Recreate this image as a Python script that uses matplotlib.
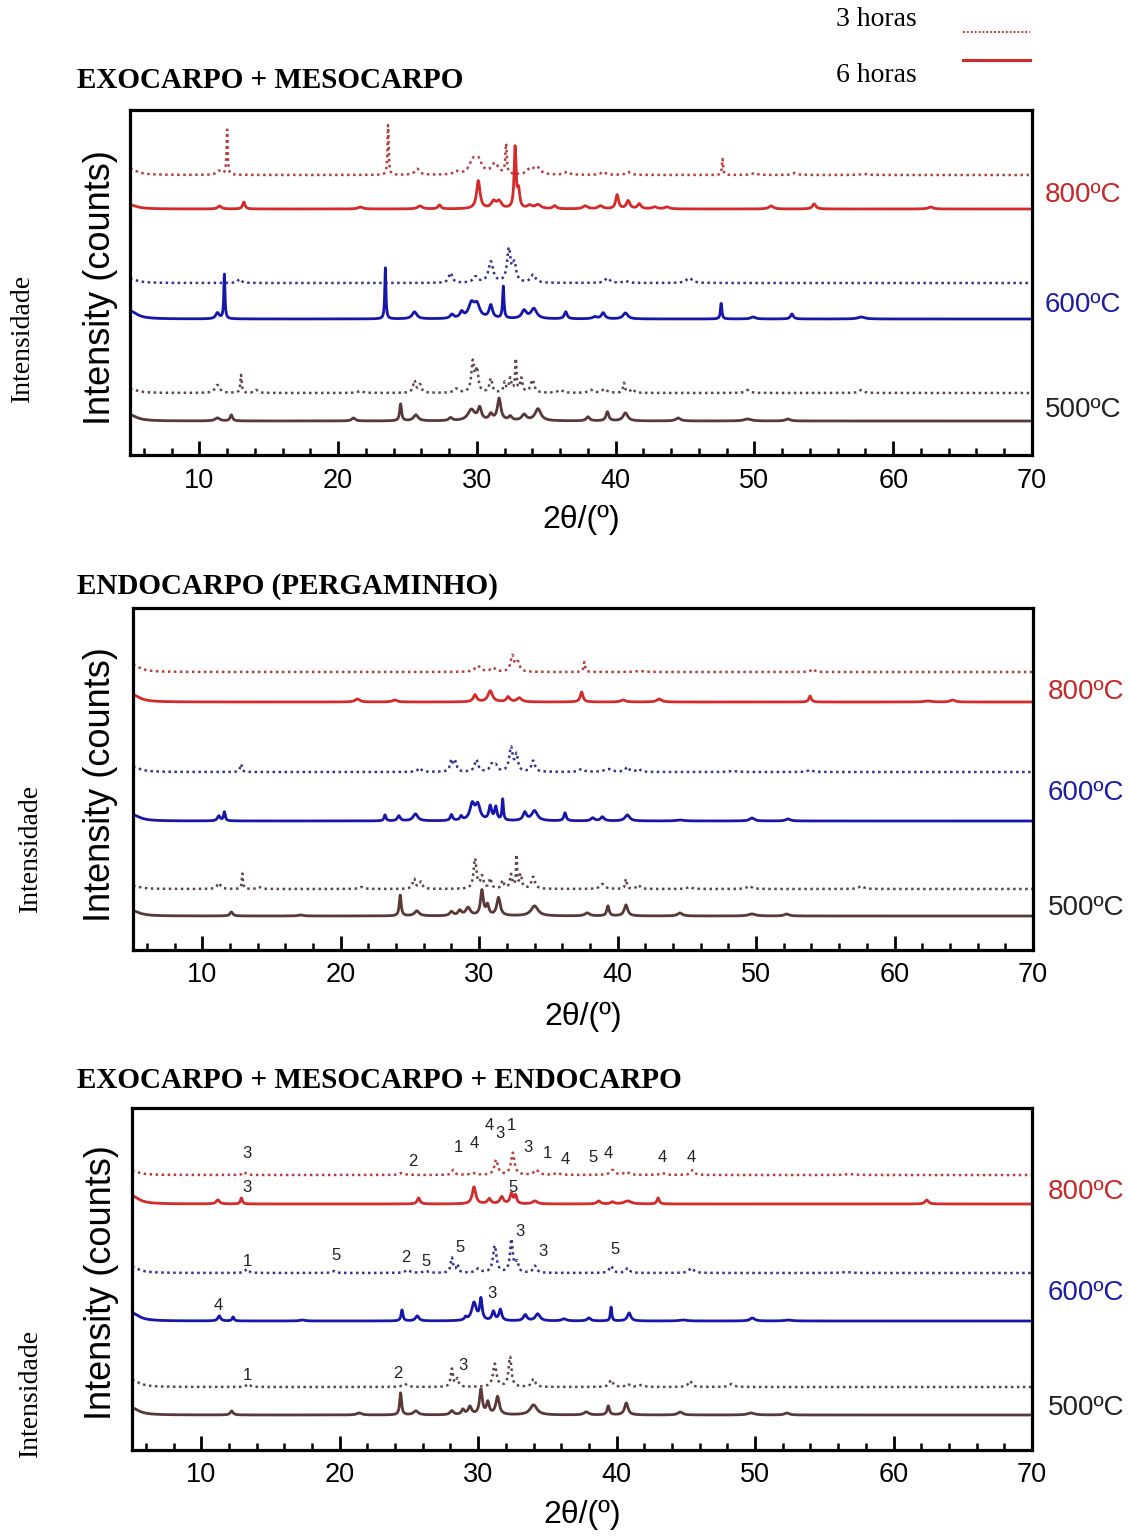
import numpy as np
import matplotlib.pyplot as plt
from matplotlib.lines import Line2D
from matplotlib.ticker import MultipleLocator

plt.rcParams['font.family'] = 'Liberation Sans'

# peak lists for each diffractogram: (2theta, height, half width)
# EXOCARPO + MESOCARPO
em_800_3h = [(5.0, 6, 0.6), (11.4, 4, 0.2), (12.0, 45, 0.05), (23.6, 50, 0.05), (25.7, 6, 0.2),
             (28.5, 3, 0.2), (29.7, 12, 0.3), (30.1, 13, 0.3), (31.3, 11, 0.3), (32.1, 30, 0.06),
             (33.8, 5, 0.2), (34.3, 8, 0.3), (36.5, 3, 0.2), (39.1, 3, 0.2), (40.9, 3, 0.2),
             (47.7, 16, 0.05), (50.0, 2, 0.2), (52.9, 2, 0.2), (57.9, 1, 0.3)]
em_800_6h = [(5.0, 4, 0.6), (11.45, 3, 0.15), (13.2, 7, 0.1), (21.6, 2, 0.2), (25.9, 3, 0.2),
             (27.3, 4, 0.12), (30.1, 28, 0.15), (31.2, 7, 0.2), (31.6, 7, 0.2), (32.75, 61, 0.08),
             (33.0, 17, 0.1), (33.8, 3, 0.2), (34.4, 4, 0.25), (35.6, 3, 0.15), (37.8, 3, 0.2),
             (38.9, 3, 0.2), (40.1, 14, 0.12), (40.9, 8, 0.15), (41.7, 5, 0.15), (42.8, 2, 0.2),
             (43.7, 2, 0.2), (51.2, 3, 0.2), (54.3, 5, 0.15), (62.7, 2, 0.2)]
em_600_3h = [(5.0, 4, 0.6), (12.9, 4, 0.15), (28.1, 10, 0.15), (29.9, 6, 0.2), (31.0, 21, 0.2),
             (32.3, 33, 0.15), (32.7, 18, 0.15), (34.05, 8, 0.2), (39.4, 5, 0.2), (40.7, 2, 0.2),
             (45.3, 5, 0.25)]
em_600_6h = [(5.0, 8, 0.6), (11.3, 6, 0.15), (11.8, 45, 0.05), (23.4, 51, 0.05), (25.5, 7, 0.2),
             (28.2, 4, 0.15), (28.9, 6, 0.15), (29.6, 14, 0.25), (30.0, 13, 0.25), (31.0, 13, 0.15),
             (31.9, 32, 0.06), (33.4, 8, 0.2), (34.1, 10, 0.25), (36.4, 7, 0.12), (38.5, 2, 0.2),
             (39.1, 6, 0.15), (40.7, 6, 0.2), (47.6, 16, 0.06), (49.9, 2, 0.2), (52.7, 5, 0.12),
             (57.7, 2, 0.3)]
em_500_3h = [(5.0, 4, 0.6), (11.3, 8, 0.2), (13.0, 18, 0.06), (14.1, 3, 0.15), (21.6, 2, 0.2),
             (25.5, 12, 0.12), (25.9, 8, 0.12), (28.5, 4, 0.2), (29.7, 30, 0.12), (30.0, 22, 0.12),
             (31.0, 14, 0.12), (32.0, 10, 0.1), (32.4, 14, 0.1), (32.8, 33, 0.06), (33.2, 14, 0.1),
             (34.0, 13, 0.15), (36.0, 3, 0.2), (38.2, 3, 0.2), (39.2, 4, 0.2), (40.6, 10, 0.08),
             (41.2, 4, 0.15), (49.5, 3, 0.2), (57.7, 3, 0.2)]
em_500_6h = [(5.0, 6, 0.6), (11.3, 3, 0.2), (12.3, 6, 0.1), (21.1, 3, 0.15), (24.5, 17, 0.08),
             (25.6, 6, 0.2), (28.1, 3, 0.15), (29.6, 11, 0.3), (30.2, 12, 0.15), (31.0, 6, 0.15),
             (31.6, 22, 0.15), (32.4, 4, 0.15), (33.4, 6, 0.2), (34.4, 12, 0.25), (38.0, 4, 0.15),
             (39.4, 9, 0.12), (40.7, 8, 0.2), (44.5, 3, 0.2), (49.5, 2, 0.3), (52.4, 2, 0.2)]

# ENDOCARPO (PERGAMINHO)
en_800_3h = [(5.0, 7, 0.6), (29.9, 6, 0.25), (31.0, 4, 0.2), (32.4, 16, 0.15), (32.8, 9, 0.15),
             (37.6, 10, 0.07), (41.6, 1, 0.3), (54.1, 3, 0.15)]
en_800_6h = [(5.0, 7, 0.6), (21.2, 3, 0.2), (23.9, 2, 0.2), (29.7, 7, 0.15), (30.8, 11, 0.2),
             (32.1, 5, 0.15), (32.9, 4, 0.2), (37.4, 10, 0.12), (40.4, 2, 0.2), (43.0, 3, 0.2),
             (53.9, 6, 0.1), (62.4, 1, 0.3), (64.2, 2, 0.2)]
en_600_3h = [(5.0, 5, 0.6), (12.8, 8, 0.08), (25.7, 4, 0.15), (28.0, 12, 0.12), (28.3, 9, 0.1),
             (29.8, 12, 0.15), (30.9, 7, 0.15), (31.2, 6, 0.15), (32.3, 24, 0.15), (32.7, 16, 0.12),
             (33.9, 11, 0.15), (37.4, 3, 0.2), (39.3, 3, 0.3), (40.7, 5, 0.15), (41.5, 3, 0.15),
             (48.3, 1, 0.3), (53.9, 2, 0.2)]
en_600_6h = [(5.0, 6, 0.6), (11.2, 5, 0.12), (11.6, 9, 0.07), (23.2, 6, 0.08), (24.2, 5, 0.12),
             (25.4, 7, 0.2), (28.0, 6, 0.1), (28.7, 4, 0.1), (29.5, 16, 0.2), (29.9, 15, 0.2),
             (30.8, 14, 0.12), (31.2, 13, 0.1), (31.7, 21, 0.06), (33.3, 8, 0.15), (34.0, 10, 0.25),
             (36.2, 8, 0.1), (38.2, 3, 0.15), (38.9, 4, 0.15), (40.7, 6, 0.2), (44.5, 1, 0.3),
             (49.7, 3, 0.2), (52.3, 2, 0.2)]
en_500_3h = [(5.0, 3, 0.6), (11.2, 6, 0.15), (12.9, 16, 0.05), (14.1, 2, 0.15), (21.5, 2, 0.2),
             (25.3, 10, 0.12), (25.8, 7, 0.12), (29.7, 30, 0.12), (30.2, 12, 0.12), (30.8, 10, 0.1),
             (31.7, 8, 0.1), (32.3, 14, 0.1), (32.7, 32, 0.05), (33.0, 14, 0.1), (33.9, 12, 0.15),
             (38.9, 5, 0.2), (40.6, 10, 0.07), (41.5, 4, 0.15), (45.2, 2, 0.2), (49.5, 3, 0.2),
             (57.6, 3, 0.2)]
en_500_6h = [(5.0, 5, 0.6), (12.1, 4, 0.12), (17.1, 1, 0.2), (24.3, 21, 0.08), (25.5, 5, 0.2),
             (28.0, 4, 0.15), (28.6, 5, 0.15), (29.2, 8, 0.2), (30.2, 25, 0.12), (30.6, 10, 0.12),
             (31.4, 18, 0.15), (34.0, 10, 0.3), (37.8, 3, 0.2), (39.3, 10, 0.1), (40.6, 11, 0.15),
             (44.5, 3, 0.2), (49.7, 2, 0.3), (52.2, 2, 0.2)]

# EXOCARPO + MESOCARPO + ENDOCARPO
al_800_3h = [(5.0, 4, 0.6), (13.1, 3, 0.12), (24.5, 2, 0.2), (28.2, 5, 0.12), (29.6, 2, 0.2),
             (31.3, 15, 0.15), (32.5, 22, 0.15), (34.2, 5, 0.2), (35.7, 2, 0.2), (39.7, 5, 0.2),
             (40.7, 3, 0.2), (43.3, 2, 0.2), (45.5, 5, 0.15), (56.8, 1, 0.3)]
al_800_6h = [(5.0, 8, 0.6), (11.2, 4, 0.15), (12.9, 6, 0.08), (25.7, 6, 0.12), (29.7, 17, 0.15),
             (30.8, 5, 0.15), (31.7, 7, 0.15), (32.4, 10, 0.12), (32.7, 8, 0.1), (34.1, 3, 0.2),
             (38.7, 3, 0.15), (39.7, 2, 0.15), (40.8, 3, 0.3), (43.0, 6, 0.1), (62.4, 4, 0.15)]
al_600_3h = [(5.0, 6, 0.6), (13.3, 4, 0.15), (19.6, 2, 0.15), (24.9, 3, 0.2), (26.2, 2, 0.2),
             (28.1, 15, 0.1), (28.5, 8, 0.1), (30.0, 4, 0.2), (31.2, 27, 0.15), (32.4, 33, 0.12),
             (32.8, 10, 0.12), (34.1, 7, 0.15), (39.6, 7, 0.15), (40.8, 5, 0.15), (45.4, 5, 0.2),
             (56.6, 1, 0.3)]
al_600_6h = [(5.0, 8, 0.6), (11.3, 5, 0.12), (12.3, 4, 0.08), (17.3, 1, 0.2), (24.5, 11, 0.08),
             (25.6, 5, 0.15), (29.1, 3, 0.1), (29.7, 18, 0.2), (30.2, 21, 0.1), (31.1, 9, 0.12),
             (31.6, 11, 0.12), (33.4, 6, 0.15), (34.3, 7, 0.2), (36.2, 2, 0.2), (38.0, 3, 0.15),
             (39.6, 14, 0.06), (40.9, 8, 0.15), (44.8, 1, 0.3), (49.8, 3, 0.2), (52.4, 1, 0.3)]
al_500_3h = [(5.0, 7, 0.6), (13.4, 3, 0.15), (24.7, 3, 0.2), (28.1, 18, 0.1), (28.5, 8, 0.1),
             (31.2, 23, 0.15), (32.3, 30, 0.12), (34.0, 8, 0.15), (39.6, 7, 0.15), (40.8, 3, 0.15),
             (41.8, 2, 0.2), (45.3, 6, 0.15), (48.3, 3, 0.2)]
al_500_6h = [(5.0, 7, 0.6), (12.2, 4, 0.12), (21.4, 2, 0.2), (24.4, 22, 0.08), (25.5, 4, 0.2),
             (28.1, 4, 0.15), (28.9, 5, 0.12), (29.4, 8, 0.15), (30.2, 25, 0.12), (30.7, 12, 0.12),
             (31.4, 18, 0.15), (34.0, 10, 0.3), (37.8, 3, 0.2), (39.4, 9, 0.1), (40.7, 12, 0.15),
             (44.6, 3, 0.2), (49.7, 2, 0.3), (52.3, 2, 0.2)]

# phase labels on the last panel: (2theta, height, label)
phase_labels = [(13.3, 297, '3'), (25.3, 288, '2'), (28.6, 302, '1'), (29.7, 307, '4'),
                (30.8, 325, '4'), (31.6, 317, '3'), (32.4, 325, '1'), (33.6, 302, '3'),
                (35.0, 297, '1'), (36.3, 290, '4'), (38.3, 292, '5'), (39.4, 297, '4'),
                (43.3, 293, '4'), (45.4, 293, '4'),
                (13.3, 263, '3'), (32.5, 263, '5'),
                (13.3, 188, '1'), (19.7, 194, '5'), (24.8, 192, '2'), (26.2, 188, '5'),
                (28.7, 203, '5'), (33.0, 219, '3'), (34.7, 198, '3'), (39.9, 201, '5'),
                (11.2, 145, '4'), (31.0, 157, '3'),
                (13.3, 75, '1'), (24.2, 77, '2'), (28.9, 85, '3')]

temps = ['800ºC', '600ºC', '500ºC']
temp_colors = ['#c62828', '#1c1ca6', '#222222']

# colour / style per trace, order: 800 3h, 800 6h, 600 3h, 600 6h, 500 3h, 500 6h
trace_colors = ['#b83c3c', '#d42a2a', '#33338a', '#1616aa', '#5e4444', '#5a3838']
trace_dotted = [True, False, True, False, True, False]

W, H = 1129, 1537
fig = plt.figure(figsize=(W / 100, H / 100), dpi=100)

two_theta = np.linspace(5, 70, 3000)


def pattern(peaks):
    y = np.zeros_like(two_theta)
    for c, h, w in peaks:
        y += h / (1 + ((two_theta - c) / w) ** 2)
    return y


def fx(x):
    return x / W


def fy(y):
    return 1 - y / H


panels = [
    dict(title='EXOCARPO + MESOCARPO', title_y=80, box=(130, 110, 1032, 455),
         traces=[em_800_3h, em_800_6h, em_600_3h, em_600_6h, em_500_3h, em_500_6h],
         offsets=[280, 246, 172, 136, 62, 34], temp_y=[195, 305, 410], temp_x=1045,
         intens=(22, 338), counts=(100, 288), xlab_y=520),
    dict(title='ENDOCARPO (PERGAMINHO)', title_y=587, box=(133, 608, 1033, 950),
         traces=[en_800_3h, en_800_6h, en_600_3h, en_600_6h, en_500_3h, en_500_6h],
         offsets=[278, 248, 178, 129, 61, 34], temp_y=[692, 793, 908], temp_x=1048,
         intens=(30, 848), counts=(100, 785), xlab_y=1017),
    dict(title='EXOCARPO + MESOCARPO + ENDOCARPO', title_y=1080, box=(132, 1108, 1032, 1450),
         traces=[al_800_3h, al_800_6h, al_600_3h, al_600_6h, al_500_3h, al_500_6h],
         offsets=[275, 246, 177, 129, 63, 35], temp_y=[1192, 1293, 1408], temp_x=1048,
         intens=(30, 1393), counts=(102, 1283), xlab_y=1515),
]

for n, p in enumerate(panels):
    x0, y0, x1, y1 = p['box']
    ax = fig.add_axes([fx(x0), fy(y1), (x1 - x0) / W, (y1 - y0) / H])
    for peaks, off, col, dotted in zip(p['traces'], p['offsets'], trace_colors, trace_dotted):
        if dotted:
            ax.plot(two_theta, off + pattern(peaks), color=col, lw=1.8, ls=(0, (1, 1.4)))
        else:
            ax.plot(two_theta, off + pattern(peaks), color=col, lw=2.0)
    ax.set_xlim(5, 70)
    ax.set_ylim(0, y1 - y0)
    ax.set_yticks([])
    ax.xaxis.set_major_locator(MultipleLocator(10))
    ax.xaxis.set_minor_locator(MultipleLocator(2))
    ax.tick_params(axis='x', which='major', direction='in', length=10, width=2,
                   labelsize=19.5, pad=9, top=False)
    ax.tick_params(axis='x', which='minor', direction='in', length=5, width=1.8, top=False)
    for s in ax.spines.values():
        s.set_linewidth(2.3)

    if n == 2:
        for xx, yy, lab in phase_labels:
            ax.text(xx, yy, lab, fontsize=12, ha='center', va='center', color='#222222')

    # side labels
    for t, c, ty in zip(temps, temp_colors, p['temp_y']):
        fig.text(fx(p['temp_x']), fy(ty), t, color=c, fontsize=20, ha='left', va='center')
    fig.text(fx(77), fy(p['title_y']), p['title'], family='Liberation Serif', weight='bold',
             fontsize=21, ha='left', va='center')
    fig.text(fx(p['intens'][0]), fy(p['intens'][1]), 'Intensidade', family='Liberation Serif',
             fontsize=20, rotation=90, ha='center', va='center')
    fig.text(fx(p['counts'][0]), fy(p['counts'][1]), 'Intensity (counts)', fontsize=26,
             rotation=90, ha='center', va='center')
    fig.text(fx((x0 + x1) / 2), fy(p['xlab_y']), '2θ/(º)', fontsize=23, ha='center', va='center')

# duration legend
fig.text(fx(836), fy(19), '3 horas', family='Liberation Serif', fontsize=20, ha='left', va='center')
fig.text(fx(836), fy(76), '6 horas', family='Liberation Serif', fontsize=20, ha='left', va='center')
fig.add_artist(Line2D([fx(963), fx(1030)], [fy(32), fy(32)], transform=fig.transFigure,
                      color='#b83c3c', lw=1.4, ls=(0, (1, 1))))
fig.add_artist(Line2D([fx(963), fx(1030)], [fy(60), fy(60)], transform=fig.transFigure,
                      color='#d42a2a', lw=2.2))

fig.savefig('out.png', dpi=100, facecolor='white')
